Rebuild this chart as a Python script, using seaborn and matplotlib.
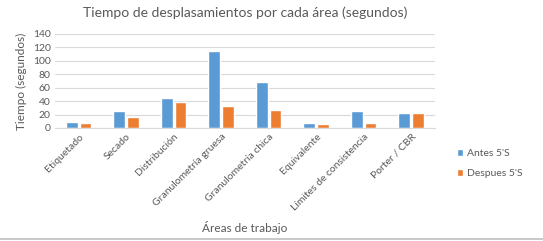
import matplotlib
matplotlib.use("Agg")
import matplotlib.pyplot as plt
import pandas as pd
import seaborn as sns

areas = ['Etiquetado', 'Secado', 'Distribución', 'Granulometría gruesa',
         'Granulometría chica', 'Equivalente', 'Límites de consistencia', 'Porter / CBR']
antes = [9, 25, 45, 115, 69, 7, 26, 23]
despues = [8, 17, 38, 32, 27, 6, 8, 23]
series = ["Antes 5'S", "Despues 5'S"]

df = pd.DataFrame({'Área': areas * 2,
                   'Tiempo': antes + despues,
                   'Serie': [series[0]] * len(areas) + [series[1]] * len(areas)})

sns.set_style("white")
plt.rcParams['font.family'] = ['Lato', 'DejaVu Sans']
gray = '#595959'

fig = plt.figure(figsize=(5.43, 2.41), dpi=100)
ax = fig.add_axes([0.101, 0.469, 0.70, 0.39])

sns.barplot(data=df, x='Área', y='Tiempo', hue='Serie',
            palette=['#5B9BD5', '#ED7D31'], width=0.58, gap=0.15,
            saturation=1, ax=ax)

ax.set_ylim(0, 140)
ax.set_yticks(range(0, 141, 20))
ax.yaxis.grid(True, color='#D9D9D9', linewidth=0.8)
ax.set_axisbelow(True)
for s in ['top', 'right', 'left']:
    ax.spines[s].set_visible(False)
ax.spines['bottom'].set_color('#D9D9D9')
ax.tick_params(axis='both', length=0, labelsize=7.5, colors=gray, pad=3)
plt.setp(ax.get_xticklabels(), rotation=45, ha='right', rotation_mode='anchor')

ax.set_xlabel('Áreas de trabajo', fontsize=8.5, color=gray, labelpad=6)
ax.set_ylabel('Tiempo (segundos)', fontsize=8.5, color=gray, labelpad=4)
ax.set_title('Tiempo de desplasamientos por cada área (segundos)',
             fontsize=10, color=gray, pad=12)

ax.legend(loc='center left', bbox_to_anchor=(0.832, 0.32),
          bbox_transform=fig.transFigure, frameon=False, borderpad=0,
          fontsize=7.5, labelcolor=gray, handlelength=0.6, handleheight=0.6,
          labelspacing=1.05, handletextpad=0.4)

fig.add_artist(plt.Line2D([0, 1], [0.01, 0.01], color='#BFBFBF', linewidth=1.2))

fig.savefig('out.png', dpi=100)
